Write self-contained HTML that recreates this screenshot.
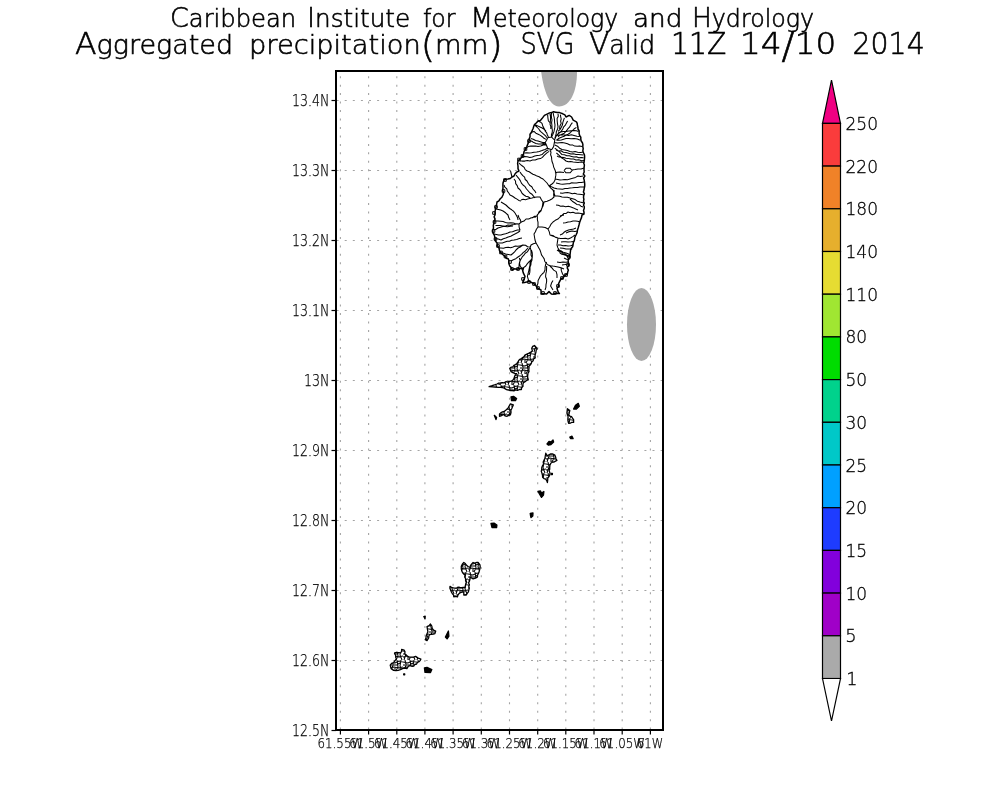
<!DOCTYPE html>
<html><head><meta charset="utf-8"><title>Aggregated precipitation</title>
<style>html,body{margin:0;padding:0;background:#fff;width:1000px;height:800px;overflow:hidden}svg{display:block}</style>
</head><body>
<svg width="1000" height="800" viewBox="0 0 1000 800">
<rect width="1000" height="800" fill="#fff"/>
<g stroke="#a4a4a4" stroke-width="1.1" stroke-dasharray="2 6.46" stroke-dashoffset="4.26" fill="none"><line x1="340.4" y1="72" x2="340.4" y2="729"/><line x1="368.6" y1="72" x2="368.6" y2="729"/><line x1="396.8" y1="72" x2="396.8" y2="729"/><line x1="424.9" y1="72" x2="424.9" y2="729"/><line x1="453.1" y1="72" x2="453.1" y2="729"/><line x1="481.3" y1="72" x2="481.3" y2="729"/><line x1="509.5" y1="72" x2="509.5" y2="729"/><line x1="537.7" y1="72" x2="537.7" y2="729"/><line x1="565.8" y1="72" x2="565.8" y2="729"/><line x1="594.0" y1="72" x2="594.0" y2="729"/><line x1="622.2" y1="72" x2="622.2" y2="729"/><line x1="650.4" y1="72" x2="650.4" y2="729"/></g>
<g stroke="#a4a4a4" stroke-width="1.1" stroke-dasharray="2 6.1" stroke-dashoffset="0.4" fill="none"><line x1="337" y1="100.5" x2="662" y2="100.5"/><line x1="337" y1="170.5" x2="662" y2="170.5"/><line x1="337" y1="240.5" x2="662" y2="240.5"/><line x1="337" y1="310.5" x2="662" y2="310.5"/><line x1="337" y1="380.5" x2="662" y2="380.5"/><line x1="337" y1="450.5" x2="662" y2="450.5"/><line x1="337" y1="520.5" x2="662" y2="520.5"/><line x1="337" y1="590.5" x2="662" y2="590.5"/><line x1="337" y1="660.5" x2="662" y2="660.5"/></g>
<g fill="#aaaaaa"><path d="M541.2,72 C543,86 548,106.5 559,106.5 C570,106.5 577,92 577,72 Z"/><ellipse cx="641.5" cy="324.5" rx="14.5" ry="36.5"/></g>
<defs><pattern id="spk" width="13" height="11" patternUnits="userSpaceOnUse"><rect width="13" height="11" fill="#fff"/><path d="M0,2 L5,3 L9,1 L13,2 M2,0 L3,5 L1,11 M7,0 L8,7 L6,11 M11,0 L10,6 L12,11 M0,8 L4,7 L8,8 L13,7 M3,5 L8,5 M8,4 L10,3 M5,8 L5,11 M0,5 L2,5" stroke="#000" stroke-width="1.05" fill="none"/></pattern></defs>
<path d="M544.4,115.4 L547.6,113.8 L549.5,112.9 L551.6,112.6 L553.5,111.8 L555.6,112.2 L557.6,112.6 L559.6,112.6 L562.8,113.8 L564.9,114.9 L566.0,117.0 L569.2,115.4 L571.6,117.0 L573.2,120.2 L576.4,121.8 L577.2,123.4 L577.4,125.3 L577.9,127.1 L578.0,129.0 L579.2,131.0 L579.1,133.3 L579.6,135.4 L580.8,137.1 L580.8,139.1 L581.2,141.0 L582.4,142.7 L582.9,144.6 L582.8,146.6 L583.2,148.7 L582.8,150.9 L583.6,153.0 L584.5,155.1 L584.6,157.2 L584.4,159.4 L584.2,161.3 L583.7,163.1 L584.4,165.0 L584.1,167.5 L584.0,170.0 L584.2,172.0 L583.3,174.0 L584.8,176.0 L583.6,178.0 L584.2,180.0 L584.5,182.0 L584.7,184.0 L584.7,186.0 L584.3,188.0 L584.0,190.0 L583.4,191.9 L584.4,193.8 L583.7,195.6 L583.5,197.5 L583.9,199.4 L583.5,201.2 L584.3,203.1 L583.5,205.0 L584.3,206.8 L584.2,208.6 L583.5,210.4 L584.0,212.2 L584.0,214.0 L582.0,215.0 L581.5,217.6 L580.5,220.0 L579.6,222.5 L579.0,225.0 L578.3,227.5 L577.5,230.0 L577.1,232.6 L576.0,235.0 L574.8,237.4 L574.5,240.0 L573.4,242.4 L573.0,245.0 L572.6,246.8 L571.3,248.3 L570.6,250.0 L570.3,252.5 L570.0,255.0 L569.0,258.0 L568.2,259.9 L568.2,262.0 L568.7,264.0 L568.2,266.0 L567.2,267.9 L568.4,270.1 L567.7,272.0 L567.4,274.0 L565.6,274.9 L564.2,276.4 L562.9,278.0 L561.0,278.8 L559.8,281.2 L558.6,283.6 L558.5,286.2 L557.0,288.4 L557.6,290.2 L558.2,292.0 L559.4,293.6 L557.4,293.6 L555.4,293.2 L553.4,294.2 L551.4,294.0 L549.0,291.6 L546.6,294.0 L544.7,293.7 L542.9,293.8 L541.0,294.0 L541.1,292.0 L541.0,290.0 L539.0,288.9 L537.0,287.6 L535.8,285.3 L533.8,283.6 L530.6,282.0 L528.6,281.3 L526.6,282.0 L524.6,282.4 L522.6,282.8 L523.4,280.4 L524.4,278.5 L525.0,276.4 L523.4,273.2 L522.7,270.8 L523.4,268.4 L521.2,268.3 L519.1,268.7 L517.0,269.2 L514.5,268.8 L512.2,270.0 L511.4,267.7 L509.8,266.0 L509.1,264.3 L508.8,262.4 L508.9,260.5 L508.2,258.8 L506.1,258.2 L505.0,256.4 L503.0,254.7 L501.0,253.0 L499.5,250.7 L499.0,248.0 L497.4,245.7 L497.0,243.0 L495.3,240.8 L495.0,238.0 L494.4,235.3 L493.0,233.0 L492.7,230.4 L493.5,228.0 L493.3,225.5 L494.0,223.0 L494.1,221.0 L495.1,219.1 L494.1,216.9 L495.0,215.0 L495.0,212.0 L495.4,209.5 L496.0,207.0 L496.6,204.5 L497.0,202.0 L498.9,200.9 L500.0,199.0 L501.9,197.3 L503.0,195.0 L503.6,192.7 L502.6,190.3 L503.0,188.0 L502.9,185.5 L503.0,183.0 L504.0,180.0 L505.9,179.3 L508.0,179.0 L510.3,178.5 L512.0,177.0 L514.0,176.0 L515.0,174.0 L516.7,172.1 L519.0,171.0 L518.0,168.6 L518.0,166.0 L517.6,163.5 L518.0,161.0 L519.6,159.4 L522.0,157.0 L523.6,153.8 L524.0,151.6 L525.2,149.8 L526.8,146.6 L527.6,144.6 L528.4,142.6 L529.1,140.8 L529.1,138.8 L530.0,137.0 L530.0,134.3 L531.6,132.2 L532.3,130.2 L533.2,128.2 L533.8,126.1 L534.8,124.2 L536.5,122.7 L538.0,121.0 L540.4,120.4 L542.0,118.6 Z" fill="#fff" stroke="#000" stroke-width="1.5" stroke-linejoin="round"/>
<path d="M512.0,177.0 L511.0,173.0 L510.5,170.5 M547.6,137.8 L551.6,137.0 L553.1,138.7 L554.8,140.2 L554.2,143.4 L553.6,146.6 L551.6,149.8 L547.6,148.2 L546.5,145.3 L545.2,142.6 L546.6,140.3 L547.6,137.8 M550.0,150.0 L551.0,152.2 L550.6,154.8 L551.5,157.0 L551.7,159.4 L552.1,161.8 L553.0,164.0 L553.7,167.1 L555.0,170.0 L556.0,173.0 L555.8,175.4 L555.4,177.7 L555.0,180.0 L553.8,182.3 L552.0,184.0 L549.0,186.0 M547.6,114.6 L547.9,117.8 L548.4,121.0 L550.8,123.4 M550.0,113.8 L550.5,116.4 L550.5,119.0 L550.3,121.6 L550.0,124.2 L550.8,126.5 L550.8,129.0 M553.2,113.0 L553.6,115.4 L554.2,117.7 L554.5,120.1 L554.6,122.6 L555.0,125.0 L554.8,127.4 L554.0,131.4 L552.9,134.3 L551.6,137.0 M558.0,113.8 L558.3,116.3 L557.1,118.6 L557.2,121.0 L557.5,123.8 L558.0,126.6 L557.6,129.1 L556.4,131.4 L556.1,133.9 L555.5,136.2 L554.8,138.6 M560.4,114.6 L560.7,116.8 L561.2,119.0 L560.6,121.2 L561.2,123.4 L559.9,126.1 L559.6,129.0 M564.4,117.8 L563.6,120.2 L562.8,122.6 L562.4,125.1 L561.2,127.4 L559.9,129.7 L558.0,131.4 M567.6,121.0 L566.5,123.1 L565.4,125.1 L563.7,126.8 L562.8,129.0 L561.5,130.9 L560.0,132.6 L558.0,133.8 L556.0,136.4 L554.8,139.4 M572.4,122.6 L570.8,124.8 L569.5,127.2 L567.6,129.2 L566.0,131.4 L564.3,133.2 L562.0,134.2 L559.7,135.2 L558.0,137.0 M576.4,127.4 L574.0,129.0 L572.0,131.0 L570.0,133.0 L568.1,134.2 L566.1,135.1 L564.2,136.3 L562.0,137.0 L559.1,138.3 L556.4,140.2 M548.4,137.0 L547.4,135.0 L546.7,132.9 L545.2,131.1 L544.4,129.0 L542.9,126.3 L542.0,123.4 L540.2,121.9 L538.0,121.0 M546.8,137.8 L545.6,135.8 L543.9,134.3 L542.2,132.8 L540.4,131.4 L538.8,129.0 L536.9,127.0 L534.8,125.0 M546.0,139.4 L544.0,138.3 L542.3,136.7 L540.4,135.4 L538.2,134.2 L535.9,133.2 L534.0,131.4 L530.8,132.2 M545.2,142.6 L542.7,142.6 L540.3,141.8 L538.0,141.0 L535.5,140.5 L533.3,139.2 L530.8,138.6 M546.0,145.0 L543.2,145.0 L540.7,146.1 L538.0,146.6 L535.6,146.1 L533.2,146.1 L530.8,146.1 L528.4,146.6 L525.2,148.2 M547.6,148.2 L544.9,149.5 L542.0,150.6 L539.4,151.4 L536.7,152.0 L534.0,152.2 L531.6,152.7 L529.2,152.9 L526.8,152.7 L524.4,153.0 M548.4,149.8 L546.0,151.0 L543.9,152.7 L542.0,154.6 L539.6,155.2 L537.2,155.6 L534.7,156.1 L532.4,157.0 L529.8,157.5 L527.2,156.8 L524.6,156.5 L522.0,157.0 M549.2,151.4 L547.2,152.6 L545.5,154.1 L543.9,155.7 L542.4,157.4 L540.4,158.6 L537.7,158.9 L535.2,160.0 L532.5,160.1 L530.0,161.0 L527.4,160.5 L524.8,161.1 L522.2,161.1 L519.6,161.0 M554.8,142.6 L557.2,143.1 L559.6,142.8 L562.0,142.6 L564.8,143.1 L567.5,143.8 L570.0,145.0 L572.5,144.9 L574.7,146.1 L577.2,146.3 L579.7,145.9 L582.0,146.6 M556.4,140.2 L558.9,140.2 L561.3,139.9 L563.6,139.2 L566.0,138.6 L568.7,138.4 L571.3,138.7 L574.0,138.6 L577.3,139.0 L580.4,140.2 M554.8,145.0 L557.5,146.2 L559.6,148.2 L562.0,149.5 L564.8,150.0 L567.4,150.6 L570.0,151.4 L572.5,152.0 L575.1,151.6 L577.7,152.3 L580.2,152.4 L582.8,152.2 M554.8,148.2 L556.8,149.6 L558.6,151.2 L560.4,152.8 L562.0,154.6 L564.5,154.8 L566.8,155.7 L569.3,155.8 L571.6,156.4 L574.0,157.0 L576.4,156.8 L578.8,157.8 L581.2,157.4 L583.6,157.8 M556.4,153.0 L558.3,154.6 L560.2,156.3 L561.9,158.1 L564.1,159.3 L566.0,161.0 L568.3,161.8 L570.8,161.6 L573.2,162.0 L575.6,162.3 L578.0,162.6 L581.2,162.1 L584.4,162.6 M519.0,163.0 L520.6,164.6 L522.4,166.0 L524.2,167.4 L525.2,169.6 L527.0,171.0 L529.2,171.7 L531.0,173.0 L532.9,174.2 L535.0,175.0 L537.0,176.1 L539.1,176.8 L541.0,178.0 L543.0,179.0 L545.0,181.0 L547.0,183.0 L549.0,186.0 M549.0,186.0 L550.8,188.2 L553.0,190.0 L553.8,192.3 L553.6,194.7 L554.0,197.0 L552.2,198.7 L550.0,200.0 L547.1,201.2 L544.0,202.0 L543.0,206.0 L541.7,208.4 L541.0,211.0 L539.0,213.0 L537.0,215.0 M550.0,186.0 L552.0,187.1 L554.0,188.0 L557.0,188.8 L560.0,189.0 L562.5,189.2 L565.0,188.4 L567.5,188.4 L570.0,188.0 L572.5,187.8 L575.0,187.5 L577.5,187.5 L580.0,187.0 L584.0,187.0 M555.5,179.0 L557.8,179.4 L560.0,180.0 L562.5,179.8 L565.0,179.5 L567.5,179.7 L570.0,179.0 L572.7,178.2 L575.5,177.4 L578.0,176.0 L580.5,176.5 L583.0,176.0 M564.0,170.5 L566.0,168.3 L570.0,168.2 L572.2,170.5 L570.0,172.8 L566.0,172.8 L564.0,170.5 M555.0,173.0 L557.4,172.2 L560.0,172.0 L564.0,172.5 M572.0,170.0 L575.0,169.6 L578.0,169.0 L581.1,169.0 L584.0,168.0 M554.0,190.0 L554.1,193.1 L555.0,196.0 L557.4,195.9 L559.7,196.3 L562.0,197.0 L564.7,197.3 L567.4,197.2 L570.0,198.0 L572.6,198.7 L575.2,199.6 L577.4,201.2 L580.0,202.0 L584.0,203.0 M570.0,199.0 L572.3,201.2 L575.0,203.0 L576.8,204.4 L579.2,204.7 L580.9,206.2 L583.0,207.0 M560.0,216.0 L562.1,215.2 L563.8,213.6 L566.2,213.4 L568.0,212.0 L570.4,212.8 L573.0,212.2 L575.5,213.2 L578.0,213.0 L581.0,213.4 L584.0,214.0 M556.0,205.0 L558.3,205.3 L560.6,206.2 L563.0,206.0 L565.6,206.7 L568.4,206.3 L571.0,207.0 L573.4,207.9 L575.7,209.0 L578.0,210.0 M516.0,175.0 L517.5,176.9 L519.1,178.8 L520.4,180.9 L521.4,183.1 L523.0,185.0 L525.1,186.7 L526.5,189.0 L528.3,191.0 L530.0,193.0 L532.0,194.3 L533.5,196.2 L535.0,198.0 M520.0,172.0 L521.3,173.9 L522.8,175.6 L524.6,177.1 L525.2,179.5 L527.0,181.0 L528.2,183.2 L529.6,185.3 L531.8,186.7 L533.0,189.0 L534.7,190.8 L536.0,193.0 M514.0,179.0 L515.5,181.0 L515.7,183.6 L517.2,185.6 L518.0,188.0 L519.8,189.5 L521.1,191.4 L522.2,193.5 L524.0,195.0 L525.8,196.3 L528.1,196.8 L530.0,198.0 M521.0,200.0 L523.1,199.2 L525.5,199.7 L527.6,198.9 L529.8,198.6 L532.0,198.0 L534.6,197.2 L537.3,196.9 L540.0,197.0 L541.3,199.6 L543.0,202.0 L542.6,205.0 L542.0,208.0 L541.1,210.2 L539.1,211.7 L538.1,213.9 L537.0,216.0 L534.6,216.3 L532.5,217.8 L530.0,218.0 M504.0,185.0 L504.9,187.2 L506.8,188.8 L507.3,191.2 L508.8,193.0 L510.0,195.0 L512.6,196.3 L515.0,198.0 L517.0,199.1 L518.8,200.4 L521.0,201.0 M501.0,202.0 L503.5,203.5 L505.9,205.0 L508.0,207.0 L509.7,208.5 L511.7,209.8 L513.5,211.2 L515.0,213.0 L516.3,215.2 L517.5,217.5 L518.0,220.0 M496.0,209.0 L498.4,209.4 L500.7,210.1 L503.0,211.0 L505.6,212.8 L508.0,215.0 L508.7,217.6 L510.0,220.0 M537.0,215.0 L537.4,217.4 L537.4,219.8 L538.0,222.2 L538.0,224.6 L538.0,227.0 L542.0,227.0 L545.2,227.5 L548.0,229.0 L549.3,231.9 L550.0,235.0 L552.9,235.5 L555.2,237.2 L558.0,238.0 M548.0,229.0 L549.7,226.7 L551.1,224.1 L553.0,222.0 L555.3,220.3 L557.9,219.1 L560.0,217.0 L561.8,215.6 L564.0,215.0 M538.0,227.0 L536.4,229.2 L535.4,231.7 L534.0,234.0 L534.5,237.0 L535.0,240.0 L536.0,243.0 L533.4,243.7 L531.0,245.0 L530.0,248.0 M536.0,243.0 L537.4,245.3 L538.7,247.7 L540.0,250.0 L540.8,252.4 L541.5,254.9 L543.0,257.0 L544.2,258.9 L544.7,261.2 L546.0,263.0 L548.0,265.0 M548.0,265.0 L550.5,265.7 L553.0,266.1 L555.5,266.4 L558.0,267.0 L561.1,267.8 L564.0,269.0 M530.0,247.0 L530.8,249.6 L531.1,252.3 L531.0,255.0 L532.0,257.4 L532.0,260.0 L531.1,262.3 L530.9,264.7 L530.0,267.0 L530.0,269.7 L529.8,272.4 L529.0,275.0 M519.0,224.0 L519.1,227.1 L520.0,230.0 L517.4,230.1 L515.0,230.8 L512.5,231.7 L510.0,232.0 L507.8,233.0 L505.6,233.7 L503.3,234.3 L501.0,235.0 L498.6,235.0 L496.3,234.4 L494.0,234.0 M519.0,224.0 L521.2,222.1 L524.0,221.1 L526.0,219.0 L528.6,219.0 L531.0,218.1 L533.4,217.2 L536.0,217.0 M519.0,224.0 L516.8,223.7 L514.6,224.6 L512.4,224.8 L510.2,225.3 L508.0,225.0 L505.5,225.9 L503.0,226.5 L500.5,227.2 L498.0,228.0 L496.1,229.3 L494.0,230.0 M518.0,215.0 L519.0,217.7 L520.5,220.1 L521.0,223.0 M494.5,221.0 L498.0,221.0 L500.6,221.2 L503.1,221.6 L505.5,222.4 L508.0,223.0 L510.7,222.8 L513.4,223.1 L516.0,224.0 M495.5,238.5 L498.3,239.0 L501.0,240.0 L503.3,238.7 L505.8,238.1 L508.2,237.0 L510.7,236.3 L513.0,235.0 L515.4,233.8 L517.8,232.5 L520.0,231.0 M499.0,248.0 L501.0,248.0 L503.4,248.2 L505.8,247.5 L508.2,247.2 L510.6,247.7 L513.0,247.0 L515.4,246.1 L518.0,246.2 L520.5,245.7 L523.0,245.0 L525.5,245.2 L527.6,246.7 L530.0,247.0 M501.0,253.0 L503.0,253.0 L505.6,254.1 L508.3,254.5 L511.0,255.0 L512.8,253.5 L514.6,251.9 L516.0,250.0 L518.1,248.0 L520.7,246.7 L523.0,245.0 M511.0,261.0 L513.3,259.7 L515.8,258.7 L518.0,257.0 L519.9,255.7 L521.6,254.3 L523.1,252.6 L525.0,251.3 L526.5,249.6 L528.0,248.0 M518.0,269.0 L519.0,266.6 L519.2,263.9 L519.8,261.4 L521.0,259.0 L522.2,256.9 L523.9,255.2 L525.2,253.2 L527.3,251.9 L528.5,249.9 L530.0,248.0 M550.0,235.0 L552.6,236.1 L555.3,237.1 L558.0,238.0 L560.5,238.4 L563.0,238.5 L565.6,238.2 L568.0,239.0 L570.5,238.0 L572.8,236.6 L575.0,235.0 M558.0,238.0 L557.7,240.3 L557.3,242.7 L557.0,245.0 L557.8,247.7 L559.4,250.2 L560.0,253.0 L561.9,254.2 L564.1,254.8 L566.2,255.6 L568.0,257.0 M558.0,245.0 L560.5,245.0 L563.0,245.8 L565.5,245.4 L568.0,246.0 L570.6,245.8 L573.0,245.0 M560.0,235.0 L562.3,234.1 L564.0,232.3 L566.0,231.0 L568.5,230.1 L571.0,229.5 L573.6,228.9 L576.0,228.0 M563.0,223.0 L565.6,222.8 L568.0,222.1 L570.5,221.7 L573.0,221.0 L575.4,220.9 L577.7,221.3 L580.0,222.0 M558.0,250.0 L560.8,250.7 L563.2,252.3 L566.0,253.0 L568.1,253.8 L570.0,255.0 M562.0,265.0 L565.0,264.6 L568.0,264.0 M531.4,250.0 L532.2,252.6 L532.4,255.3 L532.2,258.0 L530.8,260.2 L528.9,261.9 L527.2,263.9 L525.8,266.0 L522.6,268.4 M530.6,260.4 L530.0,262.8 L530.0,265.2 L529.4,267.6 L529.0,270.0 L528.2,273.2 L527.4,276.4 L528.2,279.2 L529.0,282.0 M519.4,258.0 L520.1,260.6 L519.5,263.4 L520.2,266.0 L521.7,268.3 L522.6,270.8 M546.6,262.0 L545.6,264.6 L545.1,267.2 L545.0,270.0 L544.0,272.3 L542.2,274.0 L540.5,275.8 L539.4,278.0 L538.1,280.5 L537.9,283.3 L537.0,286.0 M546.6,266.0 L546.6,268.7 L546.4,271.4 L545.8,274.0 L545.6,276.7 L546.6,279.3 L546.6,282.0 L546.0,284.6 L545.9,287.4 L545.0,290.0 M549.8,266.0 L551.9,267.9 L553.7,270.1 L556.2,271.6 L557.0,274.7 L557.0,278.0 M553.0,280.4 L551.5,283.1 L550.6,286.0 L551.8,288.0 L553.0,290.0 M561.0,267.6 L561.4,270.9 L562.6,274.0 L564.2,276.4 M557.0,250.0 L558.9,251.2 L561.1,251.7 L562.8,253.4 L565.0,254.0 L567.0,255.2 L569.0,256.4 M558.0,133.0 L560.6,132.0 L563.2,131.4 L566.0,131.4 L568.7,131.1 L571.3,130.8 L574.0,130.6 L576.3,130.8 L578.5,131.4 M556.5,135.5 L558.9,135.0 L561.2,135.1 L563.6,134.9 L566.0,135.0 L568.6,135.5 L571.4,134.8 L574.0,135.5 L576.9,136.3 L579.8,136.5 M556.0,150.0 L558.4,151.0 L561.1,150.8 L563.4,152.3 L566.0,152.5 L568.5,153.2 L570.9,153.9 L573.5,153.8 L576.0,154.5 L578.4,154.5 L580.9,154.7 L583.3,155.0 M557.0,156.0 L559.1,157.1 L561.5,157.2 L563.8,157.5 L566.0,158.2 L568.5,158.6 L571.0,158.9 L573.6,159.1 L576.0,160.0 L578.8,159.7 L581.6,160.7 L584.4,160.5 M566.0,233.0 L568.9,231.8 L572.0,231.0 L574.8,231.5 L577.5,231.0 M561.0,242.0 L563.3,241.7 L565.7,241.7 L568.0,242.0 L571.2,241.8 L574.3,241.5 M560.0,248.0 L563.1,248.2 L566.0,249.0 L569.1,248.9 L572.2,249.0 M564.0,258.0 L566.6,259.2 L569.5,259.5 M557.0,262.0 L560.0,262.4 L563.0,262.0 L565.8,262.3 L568.5,262.0 M556.0,183.0 L558.2,183.4 L560.4,184.0 L562.7,184.2 L565.0,184.0 L567.3,183.8 L569.5,183.7 L571.7,182.8 L574.0,183.0 L576.5,183.0 L579.0,182.4 L581.5,182.5 L584.0,182.0 M560.0,193.0 L562.5,193.2 L565.0,192.8 L567.5,192.5 L570.0,193.0 L572.3,193.8 L574.7,193.3 L577.0,194.0 L579.4,194.2 L581.7,194.4 L584.0,195.0 M497.0,243.0 L499.7,242.9 L502.4,242.9 L505.0,242.0 L507.2,241.2 L509.5,241.2 L511.7,240.3 L514.0,240.0 L516.7,239.4 L519.3,238.6 L522.0,238.0 M495.5,225.5 L497.9,225.4 L500.3,225.6 L502.7,225.9 L505.0,226.5 L507.7,226.8 L510.3,226.2 L513.0,226.0 M551.6,137.0 L551.4,134.7 L552.2,132.5 L552.4,130.3 L552.0,128.0 L551.9,125.3 L551.6,122.7 L552.0,120.0 L551.5,117.6 L551.3,115.1 L551.6,112.6 M534.0,124.5 L537.1,125.6 L540.0,127.0 L542.2,128.0 L544.2,129.4 L546.0,131.0 M529.5,140.5 L531.8,141.3 L533.8,142.6 L536.0,143.5 L538.4,144.1 L540.7,144.0 L543.1,143.8 L545.5,144.0" fill="none" stroke="#000" stroke-width="1.05" stroke-linejoin="round"/>
<path d="M489.1,386.7 L490.6,386.1 L492.2,385.7 L493.7,385.1 L495.3,384.7 L497.0,384.0 L498.6,383.1 L500.4,382.9 L502.2,382.6 L504.1,382.9 L505.8,381.7 L507.7,381.9 L509.3,381.5 L510.9,381.2 L512.5,380.6 L513.9,378.7 L514.6,376.4 L515.3,374.8 L516.6,373.7 L514.7,373.3 L512.8,372.6 L511.1,371.6 L510.3,369.9 L509.7,368.2 L511.1,367.2 L512.8,366.8 L513.9,365.4 L515.5,364.6 L516.9,363.5 L518.0,362.0 L518.7,360.5 L519.9,359.3 L521.4,358.6 L522.7,357.6 L524.1,356.6 L524.9,355.1 L526.9,354.1 L529.0,353.1 L530.8,352.1 L532.4,351.0 L531.7,348.2 L532.7,346.4 L534.5,345.5 L536.0,347.1 L537.2,348.9 L536.1,350.5 L535.9,352.4 L535.3,354.2 L535.0,356.0 L535.2,357.9 L533.6,358.9 L533.1,360.8 L531.7,362.0 L531.2,363.6 L530.2,365.0 L529.0,366.1 L529.0,367.9 L528.8,369.8 L529.0,371.6 L528.0,373.1 L527.8,374.7 L527.6,376.4 L527.8,378.2 L528.3,379.9 L526.5,380.5 L525.1,381.7 L523.5,382.6 L522.9,384.3 L523.0,386.2 L521.6,387.7 L521.4,389.5 L519.4,389.5 L517.6,390.3 L515.6,389.9 L513.9,390.9 L512.3,390.5 L510.7,390.7 L509.1,390.2 L507.3,389.9 L505.7,389.1 L504.2,388.1 L502.4,387.7 L500.6,387.4 L498.7,387.4 Z M499.5,413.9 L500.9,412.7 L502.4,411.8 L504.2,411.5 L505.7,410.3 L507.1,409.1 L508.1,407.8 L509.0,406.3 L510.4,403.9 L513.3,404.9 L512.3,407.2 L511.7,408.7 L510.9,410.1 L511.0,412.5 L510.4,414.8 L508.7,415.4 L507.1,416.3 L504.9,415.9 L503.3,414.4 L501.5,415.6 L499.5,416.3 Z M567.4,408.7 L569.8,410.6 L569.3,412.7 L568.8,414.8 L569.9,416.2 L571.7,416.7 L572.5,418.2 L573.6,419.6 L573.6,422.4 L571.9,422.3 L570.4,423.1 L568.8,423.4 L568.2,421.9 L567.9,420.3 L567.9,418.6 L568.1,416.6 L567.5,414.8 L566.9,413.0 Z M545.8,453.2 L547.1,455.8 L548.8,454.9 L550.4,454.0 L552.3,453.9 L554.9,455.2 L555.6,456.9 L556.0,458.7 L556.9,460.4 L555.5,461.1 L554.1,462.0 L552.4,462.2 L551.0,463.0 L549.9,465.1 L549.7,467.5 L549.7,469.2 L549.1,470.8 L550.0,473.0 L549.7,475.3 L548.9,476.7 L547.8,477.9 L547.7,480.2 L547.4,482.5 L546.8,480.8 L545.8,479.2 L544.0,478.6 L542.6,477.3 L542.5,475.3 L542.0,473.3 L541.3,471.4 L541.7,469.5 L541.8,467.5 L542.6,465.6 L543.6,464.0 L543.2,462.1 L543.9,460.4 L544.9,458.6 L545.2,456.5 Z M461.3,566.3 L462.3,564.2 L463.8,562.5 L465.3,563.5 L466.3,565.0 L468.0,566.5 L470.0,567.5 L470.4,565.9 L471.3,564.4 L473.1,562.5 L474.8,563.0 L476.4,562.5 L478.1,562.5 L480.0,565.0 L480.2,566.9 L479.9,568.8 L479.4,570.6 L479.0,572.2 L478.3,573.7 L477.5,575.2 L477.5,576.9 L475.5,578.2 L473.1,578.8 L471.5,578.0 L470.0,576.9 L470.0,579.1 L469.4,581.3 L468.6,582.9 L469.4,584.7 L468.8,586.3 L469.3,588.1 L468.8,590.0 L468.4,591.9 L467.2,593.4 L466.3,595.0 L463.8,595.0 L463.8,591.9 L462.0,592.1 L460.3,592.7 L458.8,593.8 L457.9,595.2 L457.5,596.9 L455.6,596.3 L453.8,596.9 L453.6,595.1 L452.5,593.8 L451.4,592.0 L450.6,590.0 L449.9,588.2 L450.0,586.3 L452.0,587.7 L454.4,588.1 L456.3,588.2 L458.1,587.1 L460.0,587.5 L461.7,587.7 L463.3,587.4 L465.0,587.5 L465.3,585.8 L465.7,584.1 L466.3,582.5 L465.6,580.7 L465.6,578.8 L464.7,577.0 L465.0,575.0 L463.6,573.9 L462.5,572.5 L461.7,570.7 L461.3,568.8 Z M427.0,626.6 L429.1,625.7 L430.5,624.0 L431.8,626.0 L432.2,628.4 L433.6,630.1 L435.7,631.0 L434.9,633.6 L433.2,634.2 L431.4,634.4 L429.6,634.5 L428.8,636.2 L428.7,638.0 L427.0,640.6 L425.2,639.7 L426.0,638.0 L426.1,636.2 L426.9,634.0 L427.9,631.9 Z M390.2,665.1 L391.6,663.4 L393.7,662.5 L395.0,660.7 L396.4,659.0 L395.7,657.3 L395.7,655.3 L394.6,653.7 L394.6,652.9 L396.6,652.5 L398.7,652.7 L400.7,652.9 L401.6,651.3 L401.6,649.4 L404.2,650.2 L405.0,651.9 L404.7,653.7 L406.3,655.0 L407.7,656.4 L409.4,657.2 L411.2,657.2 L413.5,657.1 L415.6,656.4 L418.2,658.1 L420.9,659.0 L420.1,660.6 L419.0,661.7 L417.4,662.5 L416.6,664.0 L414.7,664.5 L413.9,666.0 L412.1,666.3 L410.4,665.7 L408.6,666.0 L406.9,668.6 L404.7,668.1 L402.5,668.6 L400.4,669.7 L398.1,670.4 L395.9,670.7 L393.7,670.4 L391.1,668.6 Z" fill="url(#spk)" stroke="#000" stroke-width="1.3" stroke-linejoin="round"/>
<path d="M511.0,397.0 L513.5,396.3 L516.6,398.5 L515.5,400.6 L511.5,400.6 Z M494.3,415.3 L496.6,417.5 L496.0,419.6 Z M573.6,409.1 L575.5,405.3 L578.3,403.4 L579.3,406.3 L576.4,409.1 Z M569.8,437.0 L572.0,436.2 L573.1,438.6 L570.5,438.6 Z M551.2,473.3 L552.4,473.3 L552.4,474.6 L551.2,474.6 Z M538.0,491.5 L540.5,491.0 L541.5,493.0 L543.9,491.5 L543.5,495.0 L541.5,497.4 L540.0,495.0 Z M547.0,444.0 L549.0,441.5 L551.0,442.0 L553.0,440.0 L553.6,442.0 L551.0,444.5 L548.5,445.2 Z M530.2,513.5 L533.0,513.0 L532.8,516.0 L531.0,517.6 L530.5,515.5 Z M491.0,523.5 L494.0,523.1 L496.9,525.0 L496.6,527.6 L492.0,527.6 Z M423.8,616.5 L425.2,616.1 L425.0,618.7 Z M448.4,631.0 L448.9,636.2 L447.1,638.9 L445.4,637.1 Z M424.4,668.0 L427.0,667.3 L431.8,669.5 L430.5,672.6 L425.0,672.3 Z M403.7,673.8 L404.7,673.8 L404.7,674.8 L403.7,674.8 Z" fill="#000" stroke="#000" stroke-width="1.3" stroke-linejoin="round"/>
<path d="M494.7,205.7 h2.6 v2.6 h-2.6 Z M492.7,211.7 h2.6 v2.6 h-2.6 Z M493.2,220.7 h2.6 v2.6 h-2.6 Z M492.2,229.7 h2.6 v2.6 h-2.6 Z M494.2,237.7 h2.6 v2.6 h-2.6 Z M496.7,244.7 h2.6 v2.6 h-2.6 Z M499.7,251.2 h2.6 v2.6 h-2.6 Z M504.2,255.2 h2.6 v2.6 h-2.6 Z M508.7,260.7 h2.6 v2.6 h-2.6 Z M510.7,267.7 h2.6 v2.6 h-2.6 Z M516.7,267.7 h2.6 v2.6 h-2.6 Z M521.7,277.7 h2.6 v2.6 h-2.6 Z M527.7,280.7 h2.6 v2.6 h-2.6 Z M532.7,282.7 h2.6 v2.6 h-2.6 Z M536.7,286.7 h2.6 v2.6 h-2.6 Z M541.7,291.7 h2.6 v2.6 h-2.6 Z M553.7,291.7 h2.6 v2.6 h-2.6 Z M556.7,284.7 h2.6 v2.6 h-2.6 Z M560.7,276.7 h2.6 v2.6 h-2.6 Z M564.7,273.7 h2.6 v2.6 h-2.6 Z M502.2,189.7 h2.6 v2.6 h-2.6 Z M503.7,178.7 h2.6 v2.6 h-2.6 Z M517.7,158.2 h2.6 v2.6 h-2.6 Z M521.2,154.7 h2.6 v2.6 h-2.6 Z M524.2,147.7 h2.6 v2.6 h-2.6 Z M527.7,139.7 h2.6 v2.6 h-2.6 Z M566.7,263.7 h2.6 v2.6 h-2.6 Z M567.7,255.7 h2.6 v2.6 h-2.6 Z" fill="none" stroke="#000" stroke-width="1"/>
<rect x="336" y="71" width="327.00" height="659" fill="none" stroke="#000" stroke-width="2"/>
<g stroke="#000" stroke-width="1.2"><line x1="340.4" y1="730" x2="340.4" y2="734.5"/><line x1="368.6" y1="730" x2="368.6" y2="734.5"/><line x1="396.8" y1="730" x2="396.8" y2="734.5"/><line x1="424.9" y1="730" x2="424.9" y2="734.5"/><line x1="453.1" y1="730" x2="453.1" y2="734.5"/><line x1="481.3" y1="730" x2="481.3" y2="734.5"/><line x1="509.5" y1="730" x2="509.5" y2="734.5"/><line x1="537.7" y1="730" x2="537.7" y2="734.5"/><line x1="565.8" y1="730" x2="565.8" y2="734.5"/><line x1="594.0" y1="730" x2="594.0" y2="734.5"/><line x1="622.2" y1="730" x2="622.2" y2="734.5"/><line x1="650.4" y1="730" x2="650.4" y2="734.5"/><line x1="331.5" y1="100.5" x2="336" y2="100.5"/><line x1="331.5" y1="170.5" x2="336" y2="170.5"/><line x1="331.5" y1="240.5" x2="336" y2="240.5"/><line x1="331.5" y1="310.5" x2="336" y2="310.5"/><line x1="331.5" y1="380.5" x2="336" y2="380.5"/><line x1="331.5" y1="450.5" x2="336" y2="450.5"/><line x1="331.5" y1="520.5" x2="336" y2="520.5"/><line x1="331.5" y1="590.5" x2="336" y2="590.5"/><line x1="331.5" y1="660.5" x2="336" y2="660.5"/><line x1="331.5" y1="730.5" x2="336" y2="730.5"/></g>
<g font-family="DejaVu Sans, Liberation Sans, sans-serif" font-weight="200" font-size="15" fill="#000" stroke="#000" stroke-width="0.25"><text x="292" y="106.0" textLength="37.3" lengthAdjust="spacingAndGlyphs">13.4N</text><text x="292" y="176.0" textLength="37.3" lengthAdjust="spacingAndGlyphs">13.3N</text><text x="292" y="246.0" textLength="37.3" lengthAdjust="spacingAndGlyphs">13.2N</text><text x="292" y="316.0" textLength="37.3" lengthAdjust="spacingAndGlyphs">13.1N</text><text x="304" y="386.0" textLength="25.5" lengthAdjust="spacingAndGlyphs">13N</text><text x="292" y="456.0" textLength="37.3" lengthAdjust="spacingAndGlyphs">12.9N</text><text x="292" y="526.0" textLength="37.3" lengthAdjust="spacingAndGlyphs">12.8N</text><text x="292" y="596.0" textLength="37.3" lengthAdjust="spacingAndGlyphs">12.7N</text><text x="292" y="666.0" textLength="37.3" lengthAdjust="spacingAndGlyphs">12.6N</text><text x="292" y="736.0" textLength="37.3" lengthAdjust="spacingAndGlyphs">12.5N</text></g>
<g font-family="DejaVu Sans, Liberation Sans, sans-serif" font-weight="200" font-size="13.2" fill="#000" stroke="#000" stroke-width="0.25"><text x="317.5" y="747.6" textLength="45.66" lengthAdjust="spacingAndGlyphs">61.55W</text><text x="349.2" y="747.6" textLength="38.21" lengthAdjust="spacingAndGlyphs">61.5W</text><text x="373.9" y="747.6" textLength="45.66" lengthAdjust="spacingAndGlyphs">61.45W</text><text x="405.5" y="747.6" textLength="38.21" lengthAdjust="spacingAndGlyphs">61.4W</text><text x="430.2" y="747.6" textLength="45.66" lengthAdjust="spacingAndGlyphs">61.35W</text><text x="461.9" y="747.6" textLength="38.21" lengthAdjust="spacingAndGlyphs">61.3W</text><text x="486.6" y="747.6" textLength="45.66" lengthAdjust="spacingAndGlyphs">61.25W</text><text x="518.3" y="747.6" textLength="38.21" lengthAdjust="spacingAndGlyphs">61.2W</text><text x="542.9" y="747.6" textLength="45.66" lengthAdjust="spacingAndGlyphs">61.15W</text><text x="574.6" y="747.6" textLength="38.21" lengthAdjust="spacingAndGlyphs">61.1W</text><text x="599.3" y="747.6" textLength="45.66" lengthAdjust="spacingAndGlyphs">61.05W</text><text x="637.0" y="747.6" textLength="26.13" lengthAdjust="spacingAndGlyphs">61W</text></g>
<g stroke="#000" stroke-width="1.2"><polygon points="822.5,123.4 831.5,80 840.5,123.4" fill="#f00082"/><rect x="822.5" y="123.40" width="18.0" height="42.70" fill="#fa3c3c"/><rect x="822.5" y="166.10" width="18.0" height="42.70" fill="#f08228"/><rect x="822.5" y="208.80" width="18.0" height="42.70" fill="#e6af2d"/><rect x="822.5" y="251.50" width="18.0" height="42.70" fill="#e6dc32"/><rect x="822.5" y="294.20" width="18.0" height="42.70" fill="#a0e632"/><rect x="822.5" y="336.90" width="18.0" height="42.70" fill="#00dc00"/><rect x="822.5" y="379.60" width="18.0" height="42.70" fill="#00d28c"/><rect x="822.5" y="422.30" width="18.0" height="42.70" fill="#00c8c8"/><rect x="822.5" y="465.00" width="18.0" height="42.70" fill="#00a0ff"/><rect x="822.5" y="507.70" width="18.0" height="42.70" fill="#1e3cff"/><rect x="822.5" y="550.40" width="18.0" height="42.70" fill="#8200dc"/><rect x="822.5" y="593.10" width="18.0" height="42.70" fill="#a000c8"/><rect x="822.5" y="635.80" width="18.0" height="42.70" fill="#aaaaaa"/><polygon points="822.5,678.50 831.5,721 840.5,678.50" fill="#fff"/></g>
<g font-family="DejaVu Sans, Liberation Sans, sans-serif" font-weight="200" font-size="17.8" fill="#000" stroke="#000" stroke-width="0.3"><text x="845.5" y="129.9" textLength="32.6" lengthAdjust="spacingAndGlyphs">250</text><text x="845.5" y="172.6" textLength="32.6" lengthAdjust="spacingAndGlyphs">220</text><text x="845.5" y="215.3" textLength="32.6" lengthAdjust="spacingAndGlyphs">180</text><text x="845.5" y="258.0" textLength="32.6" lengthAdjust="spacingAndGlyphs">140</text><text x="845.5" y="300.7" textLength="32.6" lengthAdjust="spacingAndGlyphs">110</text><text x="845.5" y="343.4" textLength="21.7" lengthAdjust="spacingAndGlyphs">80</text><text x="845.5" y="386.1" textLength="21.7" lengthAdjust="spacingAndGlyphs">50</text><text x="845.5" y="428.8" textLength="21.7" lengthAdjust="spacingAndGlyphs">30</text><text x="845.5" y="471.5" textLength="21.7" lengthAdjust="spacingAndGlyphs">25</text><text x="845.5" y="514.2" textLength="21.7" lengthAdjust="spacingAndGlyphs">20</text><text x="845.5" y="556.9" textLength="21.7" lengthAdjust="spacingAndGlyphs">15</text><text x="845.5" y="599.6" textLength="21.7" lengthAdjust="spacingAndGlyphs">10</text><text x="845.3" y="642.3">5</text><text x="846.3" y="685.0">1</text></g>
<g font-family="DejaVu Sans, Liberation Sans, sans-serif" font-weight="200" fill="#000" stroke="#000" stroke-width="0.6"><text font-size="24.7" x="170.0" y="27" textLength="126.18" lengthAdjust="spacingAndGlyphs"><tspan font-size="27.4">C</tspan>aribbean</text><text font-size="24.7" x="307.0" y="27" textLength="103.17" lengthAdjust="spacingAndGlyphs"><tspan font-size="27.4">I</tspan>nstitute</text><text font-size="24.7" x="423.0" y="27" textLength="32.53" lengthAdjust="spacingAndGlyphs">for</text><text font-size="24.7" x="470.5" y="27" textLength="147.67" lengthAdjust="spacingAndGlyphs"><tspan font-size="27.4">M</tspan>eteorology</text><text font-size="24.7" x="633.0" y="27" textLength="49.39" lengthAdjust="spacingAndGlyphs">and</text><text font-size="24.7" x="692.0" y="27" textLength="122.14" lengthAdjust="spacingAndGlyphs"><tspan font-size="27.4">H</tspan>ydrology</text><text font-size="26.5" x="75.0" y="54" textLength="158.1" lengthAdjust="spacingAndGlyphs"><tspan font-size="30.9">A</tspan>ggregated</text><text font-size="26.5" x="249.0" y="54" textLength="253.66" lengthAdjust="spacingAndGlyphs">precipitation<tspan font-size="36" dy="3">(</tspan><tspan dy="-3">mm</tspan><tspan font-size="36" dy="3">)</tspan></text><text font-size="26.5" x="520.5" y="54" textLength="53.82" lengthAdjust="spacingAndGlyphs"><tspan font-size="30.9">SVG</tspan></text><text font-size="26.5" x="589.0" y="54" textLength="66.15" lengthAdjust="spacingAndGlyphs"><tspan font-size="30.9">V</tspan>alid</text><text font-size="26.5" x="671.0" y="54" textLength="55.29" lengthAdjust="spacingAndGlyphs"><tspan font-size="30.9">11Z</tspan></text><text font-size="26.5" x="740.0" y="54" textLength="96.36" lengthAdjust="spacingAndGlyphs"><tspan font-size="30.9">14</tspan><tspan font-size="37" dy="3.5">/</tspan><tspan font-size="30.9" dy="-3.5">10</tspan></text><text font-size="26.5" x="852.5" y="54" textLength="72.19" lengthAdjust="spacingAndGlyphs"><tspan font-size="30.9">2014</tspan></text></g>
</svg>
</body></html>
